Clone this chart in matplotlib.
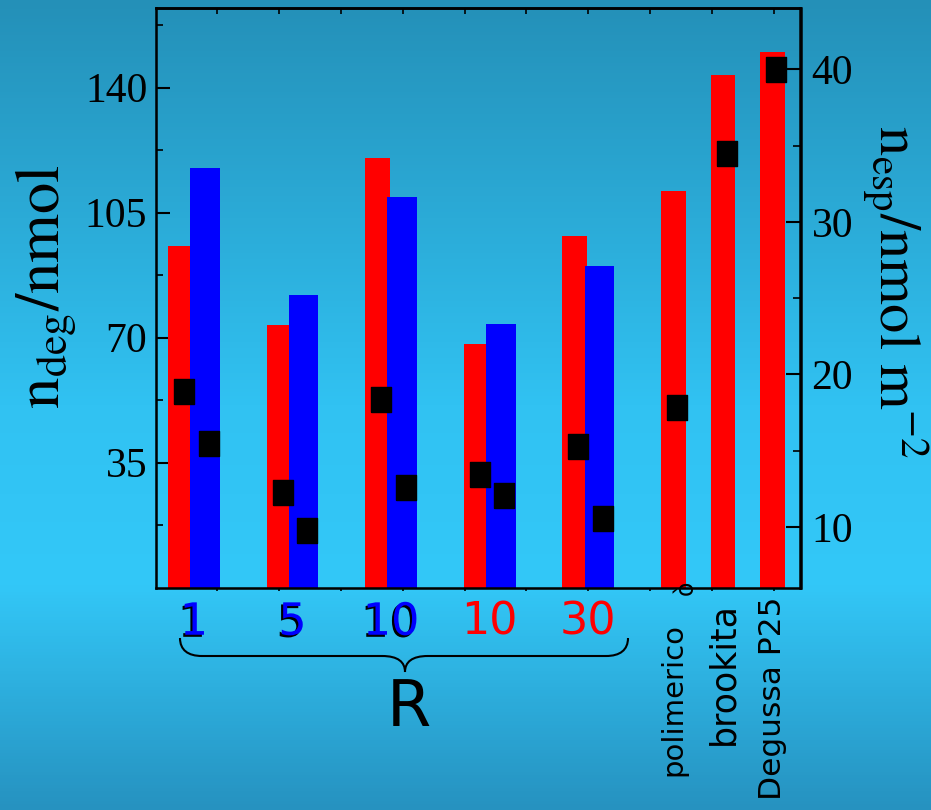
import numpy as np
import matplotlib.pyplot as plt
import matplotlib.patheffects as pe
from matplotlib.colors import LinearSegmentedColormap
from matplotlib.path import Path
from matplotlib.patches import PathPatch

plt.rcParams["mathtext.fontset"] = "stix"

# R series (left axis: n_deg in nmol, right axis: n_esp in nmol m-2)
r_labels = ["1", "5", "10", "10", "30"]
r_colors = ["#0000ff", "#0000ff", "#0000ff", "#ff0000", "#ff0000"]
ndeg_red = [95.6, 73.6, 120.2, 68.3, 98.3]
ndeg_blue = [117.4, 81.9, 109.3, 73.7, 90.1]
nesp_red = [18.9, 12.3, 18.4, 13.5, 15.3]
nesp_blue = [15.5, 9.8, 12.6, 12.1, 10.6]

# reference materials
ref_labels = ["polimerico", "brookita", "Degussa P25"]
ndeg_ref = [111.1, 143.6, 150.1]
nesp_ref = [17.9, 34.5, 40.0]

W, H = 931, 810
fig = plt.figure(figsize=(W / 100, H / 100), dpi=100)

# background gradient
bg = fig.add_axes([0, 0, 1, 1], zorder=-10)
cmap = LinearSegmentedColormap.from_list(
    "bg", [(0, "#2490b8"), (0.5, "#31c2f2"), (0.72, "#33c8f8"), (1, "#2692c0")]
)
bg.imshow(np.linspace(0, 1, 256)[:, None], aspect="auto", cmap=cmap,
          extent=[0, 1, 0, 1])
bg.axis("off")


def fx(px):
    return px / W


def fy(py):
    return 1 - py / H


ax = fig.add_axes([fx(155.6), fy(587.5), fx(800.5) - fx(155.6), fy(8.3) - fy(587.5)])
ax.set_facecolor("none")

group_left = 0.2 + 1.595 * np.arange(len(r_labels))
ref_left = 8.18 + 0.8 * np.arange(len(ref_labels))
w_red, w_blue, blue_off = 0.4, 0.48, 0.36

ax.bar(group_left, ndeg_red, width=w_red, align="edge", color="#ff0000")
ax.bar(group_left + blue_off, ndeg_blue, width=w_blue, align="edge", color="#0000ff")
ax.bar(ref_left, ndeg_ref, width=w_red, align="edge", color="#ff0000")

ax.set_xlim(0, 10.435)
ax.set_ylim(0, 162.2)
ax.set_axisbelow(True)

ax.set_yticks([35, 70, 105, 140])
ax.set_yticks(np.arange(17.5, 162, 35), minor=True)
ax.set_xticks(range(1, 11))
ax.set_xticks([6, 8], minor=True)
ax.set_xticklabels([])
ax.tick_params(axis="y", which="major", direction="in", length=10, width=1.5,
               labelsize=30, pad=6)
ax.tick_params(axis="y", which="minor", direction="in", length=5, width=1.2)
ax.tick_params(axis="x", which="major", direction="out", length=2, width=1.2)
ax.tick_params(axis="x", which="minor", direction="in", length=12, width=1.5)
for lab in ax.get_yticklabels():
    lab.set_fontfamily("Liberation Serif")
for sp in ax.spines.values():
    sp.set_linewidth(1.8)

top = ax.secondary_xaxis("top")
top.set_xticks(range(1, 11))
top.tick_params(direction="in", length=4, width=1.2, labeltop=False)
top.spines["top"].set_linewidth(1.8)

# right axis with the square markers
ax2 = ax.twinx()
ax2.set_ylim(6.04, 44.0)
rect = [(-0.4, -0.5), (0.4, -0.5), (0.4, 0.5), (-0.4, 0.5), (-0.4, -0.5)]
mk = dict(ls="none", marker=rect, ms=18, color="black")
ax2.plot(group_left + w_red / 2 + 0.06, nesp_red, **mk)
ax2.plot(group_left + blue_off + w_blue / 2 + 0.06, nesp_blue, **mk)
ax2.plot(ref_left + w_red / 2 + 0.06, nesp_ref, **mk)
ax2.set_yticks([10, 20, 30, 40])
ax2.set_yticks([15, 25, 35], minor=True)
ax2.tick_params(axis="y", which="major", direction="in", length=10, width=1.5,
                labelsize=30, pad=8)
ax2.tick_params(axis="y", which="minor", direction="in", length=5, width=1.2)
for lab in ax2.get_yticklabels():
    lab.set_fontfamily("Liberation Serif")
ax2.spines["right"].set_linewidth(1.8)

# axis titles
fig.text(fx(46), fy(287), r"$\mathrm{n_{deg}/nmol}$", rotation=90,
         ha="center", va="center", fontsize=45)
fig.text(fx(895), fy(292), r"$\mathrm{n_{esp}/nmol\ m^{-2}}$", rotation=270,
         ha="center", va="center", fontsize=42)

# category labels under the axis
xlab = ax.get_xaxis_transform()
centers = group_left + (blue_off + w_blue) / 2
for x, s, c in zip(centers, r_labels, r_colors):
    effects = [pe.withSimplePatchShadow(offset=(-1.5, -1.5), shadow_rgbFace="black",
                                        alpha=1)] if c == "#0000ff" else []
    ax.text(x, -0.06, s, transform=xlab, ha="center", va="center", fontsize=32,
            color=c, path_effects=effects, family="DejaVu Sans")

ref_tops = [623, 602, 597]
ref_sizes = [21, 25, 22.5]
for x, s, t, fs in zip(ref_left + w_red / 2, ref_labels, ref_tops, ref_sizes):
    fig.text(ax.transData.transform((x, 0))[0] / W, fy(t), s, rotation=90,
             ha="center", va="top", fontsize=fs, family="DejaVu Sans")
fig.text(fx(686), fy(588), "ò", rotation=90, ha="center", va="center",
         fontsize=17, family="DejaVu Sans")

# curly brace grouping the R values
brace = [(180, 638), (180, 650), (188, 656), (202, 656), (382, 656),
         (398, 656), (405, 662), (405, 672), (405, 662), (412, 656),
         (428, 656), (606, 656), (620, 656), (628, 650), (628, 638)]
codes = [Path.MOVETO, Path.CURVE4, Path.CURVE4, Path.CURVE4, Path.LINETO,
         Path.CURVE4, Path.CURVE4, Path.CURVE4, Path.CURVE4, Path.CURVE4,
         Path.CURVE4, Path.LINETO, Path.CURVE4, Path.CURVE4, Path.CURVE4]
verts = [(fx(x), fy(y)) for x, y in brace]
fig.add_artist(PathPatch(Path(verts, codes), transform=fig.transFigure,
                         fill=False, lw=1.5, color="black"))
fig.text(fx(409), fy(708), "R", ha="center", va="center", fontsize=46,
         family="DejaVu Sans")

plt.savefig("out.png", dpi=100)
